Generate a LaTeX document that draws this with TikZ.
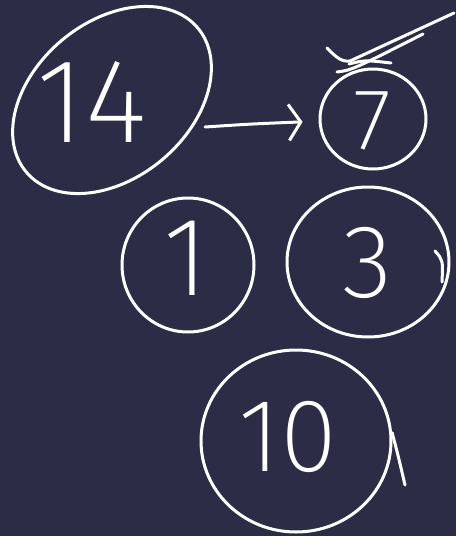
\documentclass[tikz,border=0pt]{standalone}
\usepackage{fontspec}
\newfontfamily\hand{Fira Sans ExtraLight}
\usetikzlibrary{shapes.geometric,arrows.meta}
\definecolor{board}{RGB}{44,44,70}
\begin{document}
\begin{tikzpicture}[x=1pt, y=-1pt, line width=3pt, line cap=round,
        line join=round, color=white,
        ring/.style={ellipse, draw, inner sep=0pt},
        num/.style={inner sep=0pt, font=\hand\fontsize{#1}{#1}\selectfont},
        >={Straight Barb[length=12pt,width=36pt]}]
    \useasboundingbox (0,0) rectangle (456,536);
    \fill[board] (0,0) rectangle (456,536);
    % rings
    \node[ring, minimum width=224pt, minimum height=156pt, rotate=40] (r14) at (112,100) {};
    \node[ring, minimum width=106pt, minimum height=100pt] (r7) at (373,119) {};
    \node[ring, minimum width=132pt, minimum height=134pt] (r1) at (188,265) {};
    \node[ring, minimum width=162pt, minimum height=150pt] (r3) at (368,262) {};
    \node[ring, minimum width=190pt, minimum height=182pt] (r10) at (296,441) {};
    % numbers
    \node[num=120pt] (t14) at (92,102) {14};
    \node[num=87pt] (t7) at (372,121) {7};
    \node[num=112pt] (t1) at (186,258) {1};
    \node[num=104pt] (t3) at (368,263) {3};
    \node[num=104pt] (t10) at (288,437) {10};
    % arrow and strokes
    \coordinate (tail) at (205,127);
    \draw[->, shorten >=16pt] (tail) .. controls (250,124) .. (r7);
    \draw (327,48) .. controls (336,57) and (341,62) .. (350,61) -- (454,13);
    \draw (337,72) .. controls (352,70) .. (423,34);
    \draw (349,64) .. controls (365,60) .. (391,63);
    \draw (435,251) .. controls (443,260) .. (442,282);
    \draw (r10.5) .. controls (398,455) .. (405,485);
\end{tikzpicture}
\end{document}
